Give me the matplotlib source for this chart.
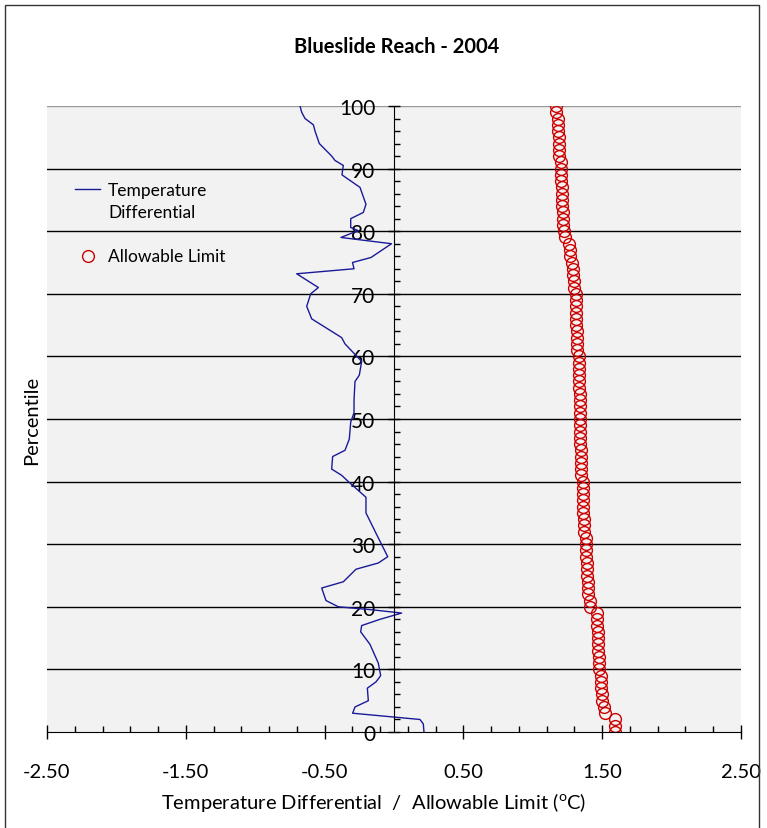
import numpy as np
import matplotlib.pyplot as plt
from matplotlib.ticker import FixedLocator, FormatStrFormatter
from matplotlib.patches import Rectangle

plt.rcParams['font.family'] = ['Lato', 'DejaVu Sans']
plt.rcParams['mathtext.fontset'] = 'custom'
plt.rcParams['mathtext.rm'] = 'Lato'

# temperature differential (x) against percentile (y)
diff_pct = [100, 99, 98, 97, 96, 94, 92, 91.3, 90.5, 89, 87, 84.3, 83, 82, 80.6, 80.1,
            79, 78, 75.8, 75, 74, 73.2, 71, 70, 68, 66, 63, 62, 59.2, 57, 56, 53,
            51, 49.5, 46.8, 45, 44, 42, 41, 40, 37.5, 35, 31, 28, 27, 26, 24, 23,
            21, 20, 19.5, 19, 18, 17, 16, 14, 11, 9, 8, 7, 5, 4, 3, 2, 1.3, 0]
diff_val = [-0.677, -0.665, -0.641, -0.581, -0.569, -0.538, -0.449, -0.425, -0.365,
            -0.375, -0.245, -0.202, -0.221, -0.312, -0.312, -0.259, -0.382, -0.018,
            -0.166, -0.299, -0.288, -0.701, -0.545, -0.600, -0.629, -0.593, -0.377,
            -0.353, -0.233, -0.250, -0.281, -0.288, -0.288, -0.312, -0.322, -0.353,
            -0.442, -0.449, -0.377, -0.329, -0.202, -0.202, -0.113, -0.045, -0.113,
            -0.274, -0.365, -0.521, -0.490, -0.401, -0.149, 0.055, -0.101, -0.233,
            -0.240, -0.173, -0.113, -0.096, -0.130, -0.192, -0.185, -0.281, -0.298,
            0.187, 0.211, 0.216]

# allowable limit at each percentile 0..100
limit_pct = list(range(101))
limit_val = [1.59, 1.59, 1.59, 1.52, 1.51, 1.50, 1.50, 1.49, 1.49, 1.49,
             1.48, 1.48, 1.48, 1.47, 1.47, 1.47, 1.47, 1.46, 1.46, 1.46,
             1.41, 1.41, 1.40, 1.40, 1.40, 1.39, 1.39, 1.39, 1.38, 1.38,
             1.38, 1.38, 1.37, 1.37, 1.37, 1.36, 1.36, 1.36, 1.36, 1.36,
             1.36, 1.35, 1.35, 1.35, 1.35, 1.35, 1.34, 1.34, 1.34, 1.34,
             1.34, 1.34, 1.34, 1.34, 1.34, 1.33, 1.33, 1.33, 1.33, 1.33,
             1.33, 1.32, 1.32, 1.32, 1.32, 1.31, 1.31, 1.31, 1.31, 1.31,
             1.31, 1.30, 1.30, 1.29, 1.29, 1.28, 1.27, 1.27, 1.26, 1.23,
             1.225, 1.22, 1.22, 1.22, 1.21, 1.21, 1.21, 1.21, 1.20, 1.20,
             1.20, 1.20, 1.19, 1.19, 1.19, 1.19, 1.18, 1.18, 1.18, 1.17,
             1.17]

xticks = [-2.5, -1.5, -0.5, 0.5, 1.5, 2.5]
yticks = [0, 10, 20, 30, 40, 50, 60, 70, 80, 90, 100]

line_color = '#1a1a99'
circ_color = '#cc0000'

fig = plt.figure(figsize=(7.67, 8.29), dpi=100)
ax = fig.add_axes([47/767, 1 - 733/829, 694/767, 626/829])
ax.set_facecolor('#f2f2f2')

# horizontal gridlines
for yv in yticks[1:-1]:
    ax.axhline(yv, color='black', lw=1.0, zorder=1)
ax.axhline(100, color='#999999', lw=1.0, zorder=1)

ax.plot(diff_val, diff_pct, color=line_color, lw=1.0, zorder=3)
ax.plot(limit_val, limit_pct, ls='none', marker='o', ms=8.5, mfc='none',
        mec=circ_color, mew=1.0, zorder=3)

ax.set_xlim(-2.5, 2.5)
ax.set_ylim(0, 100)

ax.spines['top'].set_visible(False)
ax.spines['right'].set_visible(False)
ax.spines['left'].set_position(('data', 0))
ax.spines['left'].set_zorder(4)
ax.spines['bottom'].set_zorder(4)

ax.xaxis.set_major_locator(FixedLocator(xticks))
ax.xaxis.set_minor_locator(FixedLocator(np.arange(-2.5, 2.51, 0.2)))
ax.xaxis.set_major_formatter(FormatStrFormatter('%.2f'))
ax.yaxis.set_major_locator(FixedLocator(yticks))
ax.yaxis.set_minor_locator(FixedLocator(np.arange(0, 101, 2)))

ax.tick_params(axis='x', which='major', direction='inout', length=10, width=1,
               labelsize=14.5, pad=17)
ax.tick_params(axis='x', which='minor', direction='in', length=4, width=1)
ax.tick_params(axis='y', which='major', direction='inout', length=9, width=1,
               labelsize=15, pad=9)
ax.tick_params(axis='y', which='minor', direction='in', length=4.5, width=1)

ax.set_xlabel('Temperature Differential  /  Allowable Limit ($^{\\mathrm{o}}$C)',
              fontsize=14.5)
ax.xaxis.set_label_coords(0.471, -(803 - 733) / 626)
ax.xaxis.label.set_va('center')
fig.text(32/767, 1 - 420/829, 'Percentile', rotation=90, fontsize=14.5,
         ha='center', va='center')
fig.text(397/767, 1 - 47/829, 'Blueslide Reach - 2004', fontsize=14.5,
         fontweight='bold', ha='center', va='center')

# legend drawn in axes fraction, first text line level with the handle
def fx(px):
    return (px - 47) / 694

def fy(py):
    return (733 - py) / 626

ax.plot([fx(75), fx(100)], [fy(190), fy(190)], color=line_color, lw=1.0,
        transform=ax.transAxes, clip_on=False)
ax.text(fx(108), fy(202), 'Temperature\nDifferential', transform=ax.transAxes,
        fontsize=12.5, ha='left', va='center', linespacing=1.45)
ax.plot([fx(88)], [fy(257)], ls='none', marker='o', ms=8.5, mfc='none',
        mec=circ_color, mew=1.0, transform=ax.transAxes)
ax.text(fx(108), fy(257), 'Allowable Limit', transform=ax.transAxes,
        fontsize=12.5, ha='left', va='center')

# outer chart frame
fig.patches.append(Rectangle((5/767, -0.01), 754/767, 1.01 - 6/829,
                             transform=fig.transFigure, fill=False,
                             edgecolor='#333333', lw=1.0))

fig.savefig('out.png', dpi=100)
